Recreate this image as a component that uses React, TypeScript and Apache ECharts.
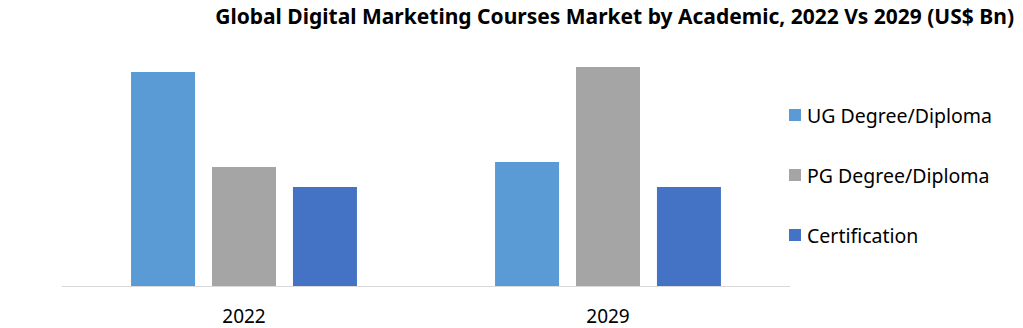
import React, { useEffect, useRef } from "react";
import * as echarts from "echarts";

const categories = ["2022", "2029"];
const seriesNames = ["UG Degree/Diploma", "PG Degree/Diploma", "Certification"];
const ugValues = [10.7, 6.2];
const pgValues = [5.95, 10.95];
const certValues = [4.95, 4.95];
const colors = ["#5B9BD5", "#A5A5A5", "#4472C4"];

export default function App() {
  const ref = useRef<HTMLDivElement>(null);
  useEffect(() => {
    if (!ref.current) return;
    const chart = echarts.init(ref.current, undefined, { renderer: "svg" });
    const font = "'Noto Sans', 'Open Sans', sans-serif";
    const data = [ugValues, pgValues, certValues];
    chart.setOption({
      animation: false,
      title: {
        text: "Global Digital Marketing Courses Market by Academic, 2022 Vs 2029 (US$ Bn)",
        right: 4,
        top: 0,
        textStyle: { fontFamily: font, fontSize: 21, fontWeight: "bold", color: "#000" },
      },
      legend: {
        orient: "vertical",
        left: 784,
        top: 100,
        itemWidth: 12,
        itemHeight: 12,
        itemGap: 40,
        icon: "rect",
        textStyle: { fontFamily: font, fontSize: 19.5, color: "#000", lineHeight: 20, padding: [0, 0, 0, 1] },
        data: seriesNames,
      },
      grid: { left: 62, top: 46, width: 728, height: 240 },
      xAxis: {
        type: "category",
        data: categories,
        axisLine: { lineStyle: { color: "#D9D9D9", width: 1 } },
        axisTick: { show: false },
        axisLabel: { fontFamily: font, fontSize: 19, color: "#000", margin: 20 },
      },
      yAxis: {
        type: "value",
        min: 0,
        max: 12,
        show: false,
        splitLine: { show: false },
      },
      series: seriesNames.map((name, i) => ({
        name,
        type: "bar",
        data: data[i],
        barWidth: 64,
        barGap: "26.5%",
        itemStyle: { color: colors[i] },
      })),
    });
    return () => chart.dispose();
  }, []);
  return (
    <div
      ref={ref}
      style={{ position: "absolute", left: 0, top: 0, width: 1023, height: 328, background: "#fff" }}
    />
  );
}
